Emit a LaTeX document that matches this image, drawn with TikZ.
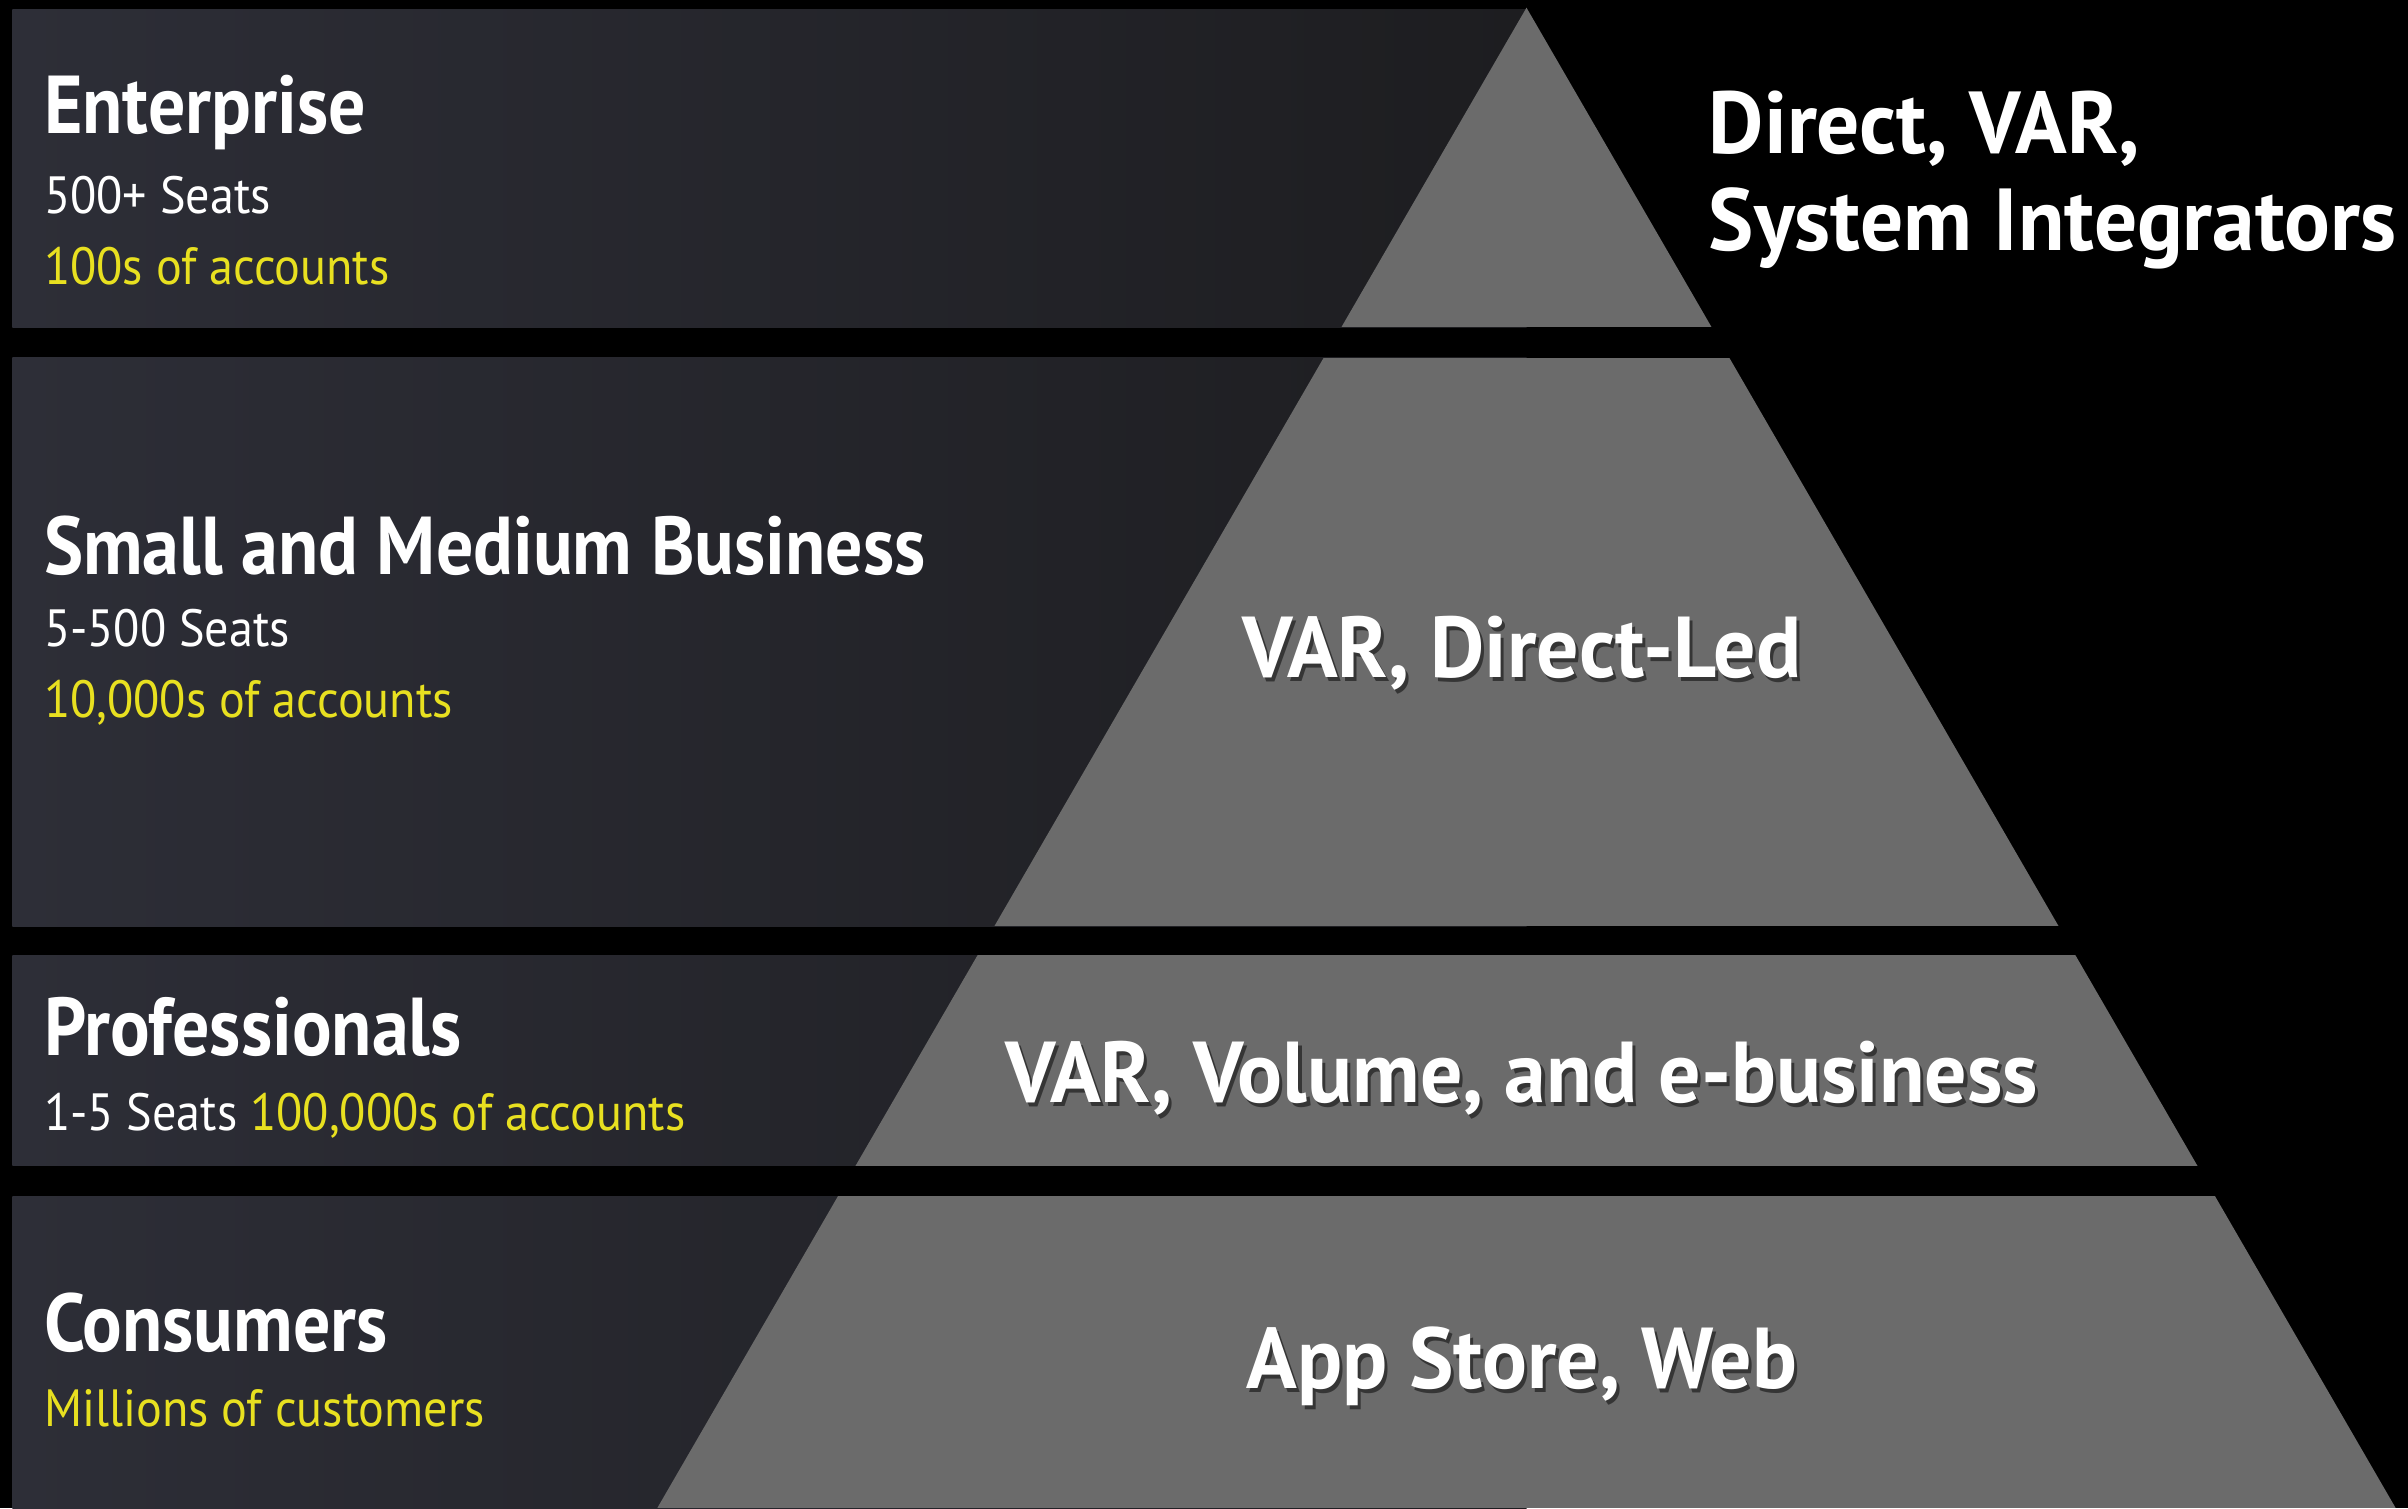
\documentclass[tikz,border=0pt]{standalone}
\usepackage{fontspec}
\setmainfont{PT Sans}
\newfontfamily\segfont{PT Sans}[FakeStretch=0.92]
\newfontfamily\segboldfont{PT Sans Bold}[FakeStretch=0.90]
\newfontfamily\chanfont{PT Sans Bold}[FakeStretch=0.97]
\usetikzlibrary{calc}

\definecolor{bandleft}{RGB}{45,46,55}
\definecolor{bandright}{RGB}{29,29,32}
\definecolor{pyr}{RGB}{107,107,107}
\definecolor{accent}{RGB}{232,224,32}

\tikzset{
  band/.style={left color=bandleft, right color=bandright, draw=none},
  segtitle/.style={anchor=base west, inner sep=0pt, text=white, font=\segboldfont\fontsize{15.2}{16}\selectfont},
  segline/.style={anchor=base west, inner sep=0pt, text=white, font=\segfont\fontsize{9.7}{11}\selectfont},
  chantext/.style={anchor=base, inner sep=0pt, text=white, font=\chanfont\fontsize{16}{18}\selectfont},
  chanshadow/.style={anchor=base, inner sep=0pt, text=black, opacity=0.5, font=\chanfont\fontsize{16}{18}\selectfont},
  toptext/.style={anchor=base west, inner sep=0pt, text=white, font=\chanfont\fontsize{16.3}{18}\selectfont},
}

\begin{document}
\begin{tikzpicture}[x=0.01cm, y=-0.01cm]
  % canvas
  \fill[black] (0,0) rectangle (1568,982);
  \useasboundingbox (0,0) rectangle (1568,982);

  % segment bands
  \fill[band] (8,6)   rectangle (994,213);
  \fill[band] (8,233) rectangle (994,603);
  \fill[band] (8,622) rectangle (994,759);
  \fill[band] (8,779) rectangle (994,982);

  % pyramid, cut into the same bands
  \coordinate (apex) at (994,5);
  \coordinate (baseL) at (428,982);
  \coordinate (baseR) at (1560,982);
  \begin{scope}
    \clip (apex) -- (baseR) -- (baseL) -- cycle;
    \fill[pyr] (0,0)   rectangle (1568,213);
    \fill[pyr] (0,233) rectangle (1568,603);
    \fill[pyr] (0,622) rectangle (1568,759);
    \fill[pyr] (0,779) rectangle (1568,982);
  \end{scope}

  % segment labels
  \node[segtitle] (ent) at (28,87) {Enterprise};
  \node[segline] (entseats) at (28,139) {500+ Seats};
  \node[segline, text=accent] (entacc) at (28,185) {100s of accounts};

  \node[segtitle] (smb) at (28,374) {Small and Medium Business};
  \node[segline] (smbseats) at (28,421) {5-500 Seats};
  \node[segline, text=accent] (smbacc) at (28,467) {10,000s of accounts};

  \node[segtitle] (pro) at (28,687) {Professionals};
  \node[segline] (proseats) at (28,736) {1-5 Seats \textcolor{accent}{100,000s of accounts}};

  \node[segtitle] (con) at (28,880) {Consumers};
  \node[segline, text=accent] (concust) at (28,929) {Millions of customers};

  % channel labels
  \node[toptext] (top1) at (1112,100) {Direct, VAR,};
  \node[toptext] (top2) at (1112,163) {System Integrators};

  \foreach \name/\y/\txt in {smbch/441/{VAR, Direct-Led}, proch/718/{VAR, Volume, and e-business}, conch/904/{App Store, Web}} {
    \node[chanshadow] at (993,\y+2.5) {\txt};
    \node[chantext] (\name) at (991,\y) {\txt};
  }
\end{tikzpicture}
\end{document}
